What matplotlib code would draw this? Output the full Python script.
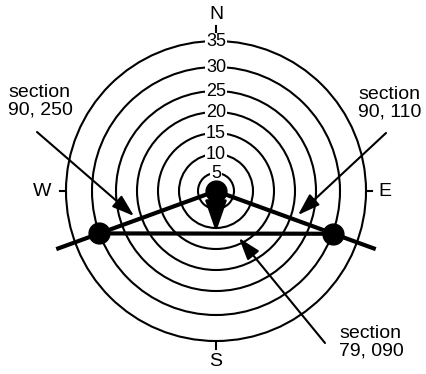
import numpy as np
import matplotlib.pyplot as plt

# ring scale (label -> radius on the plot)
ring_labels = [5, 10, 15, 20, 25, 30, 35]
ring_radii = [18, 37, 58, 79, 100, 124, 150]

# compass: letter, azimuth, tick start, tick end, letter radius
compass_names = ["N", "E", "S", "W"]
compass_az = [0, 90, 180, 270]
tick_in = [159, 151, 151, 151]
tick_out = [165, 156, 158, 156]
letter_r = [177, 169, 170, 174]

# poles: azimuth (deg), radius
dot_az = [0, 250, 110]
dot_r = [0, 124, 125]

# section traces through the centre
trace_az = [250, 110]
trace_len = 170

# downward arrow from the centre pole
down_az = 180
down_len = 41

# annotations: text, text position, arrow start, arrow tip
notes = ["section\n90, 250", "section\n90, 110", "section\n79, 090"]
note_xy = [(-208, 90), (142, 88), (123, -151)]
arrow_from = [(-179, 59), (170, 58), (109, -152)]
arrow_to = [(-82, -25), (82, -24), (23, -47)]


def polar_xy(az, r):
    a = np.radians(az)
    return r * np.sin(a), r * np.cos(a)


plt.rcParams['font.family'] = ['Liberation Sans', 'DejaVu Sans']

fig = plt.figure(figsize=(4.26, 3.74), dpi=100)
ax = fig.add_axes([0, 0, 1, 1])
ax.set_xlim(-216, 210)
ax.set_ylim(-183, 191)
ax.set_aspect('equal')
ax.axis('off')

# -----------------------------
# rings with labels
# -----------------------------
for lab, r in zip(ring_labels, ring_radii):
    ax.add_patch(plt.Circle((0, 0), r, fill=False, lw=1.5, color='k', zorder=1))
    ax.text(0, r, str(lab), ha='center', va='center', fontsize=13,
            bbox=dict(boxstyle='square,pad=0.05', fc='white', ec='none'),
            zorder=2)

# -----------------------------
# compass ticks and letters
# -----------------------------
for name, az, t0, t1, rl in zip(compass_names, compass_az, tick_in, tick_out, letter_r):
    x0, y0 = polar_xy(az, t0)
    x1, y1 = polar_xy(az, t1)
    ax.plot([x0, x1], [y0, y1], color='k', lw=1.5)
    xt, yt = polar_xy(az, rl)
    ax.text(xt, yt, name, ha='center', va='center', fontsize=14)

# -----------------------------
# section traces
# -----------------------------
for az in trace_az:
    xe, ye = polar_xy(az, trace_len)
    ax.plot([0, xe], [0, ye], color='k', lw=3, solid_capstyle='butt', zorder=3)

xl, yl = polar_xy(dot_az[1], dot_r[1])
xr, yr = polar_xy(dot_az[2], dot_r[2])
ax.plot([xl, xr], [yl, yr], color='k', lw=3, solid_capstyle='butt', zorder=3)

# poles
dx, dy = polar_xy(np.array(dot_az), np.array(dot_r))
ax.plot(dx, dy, 'o', color='k', ms=15, zorder=5)

# arrow from centre pole
xd, yd = polar_xy(down_az, down_len)
ax.annotate("", xy=(xd, yd), xytext=(0, 0),
            arrowprops=dict(arrowstyle='-|>,head_length=1.3,head_width=0.45',
                            mutation_scale=15, color='k', lw=2,
                            shrinkA=0, shrinkB=0), zorder=4)

# -----------------------------
# annotations
# -----------------------------
for txt, pos, a0, a1 in zip(notes, note_xy, arrow_from, arrow_to):
    ax.text(pos[0], pos[1], txt, ha='left', va='center', fontsize=14,
            linespacing=1.05)
    ax.annotate("", xy=a1, xytext=a0,
                arrowprops=dict(arrowstyle='-|>,head_length=0.9,head_width=0.3',
                                mutation_scale=15, color='k', lw=1.5,
                                shrinkA=0, shrinkB=0), zorder=4)

fig.savefig("out.png", dpi=100, facecolor='white')
